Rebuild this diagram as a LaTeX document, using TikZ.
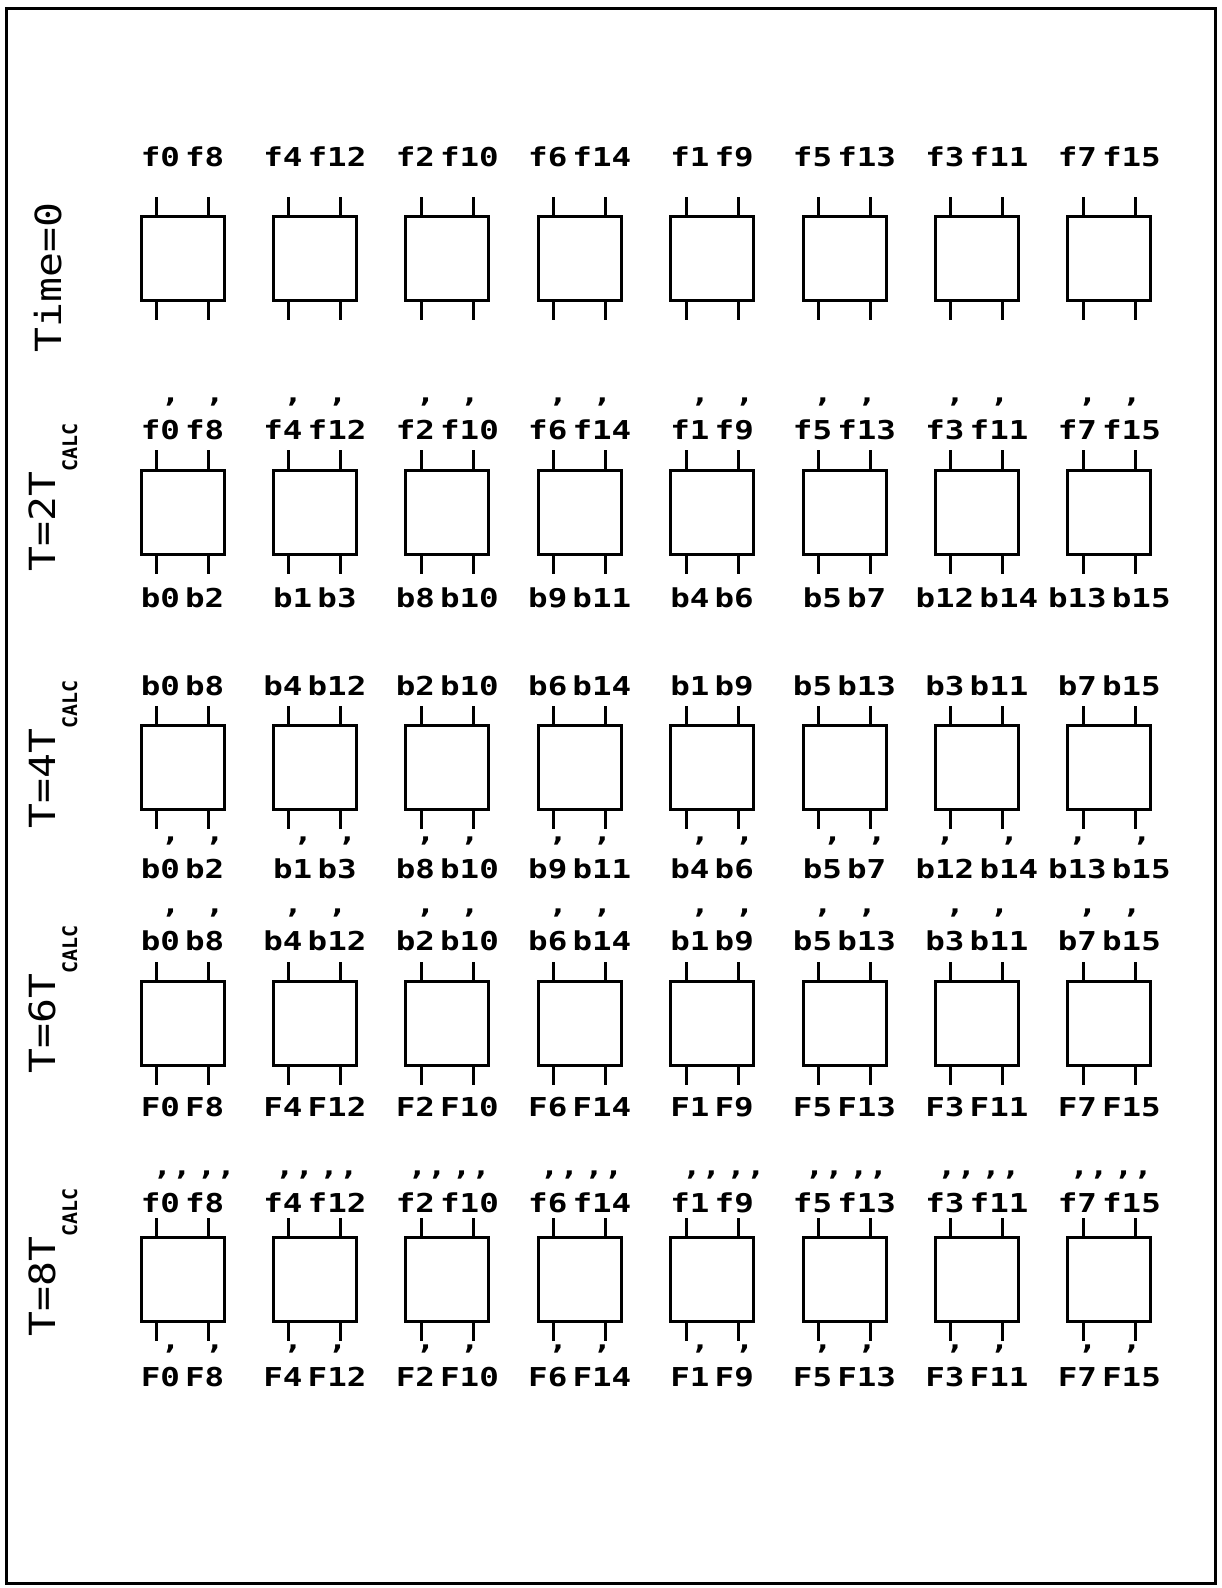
\documentclass[tikz,border=0pt]{standalone}
\usepackage{fontspec}
\newfontfamily\labfont[FakeStretch=1.25]{DejaVu Sans Mono Bold}
\newfontfamily\rowfont[FakeStretch=1.15]{DejaVu Sans Mono}
\newfontfamily\calcfont{DejaVu Sans Mono Bold}
\newcommand\tk{\makebox[0pt][l]{\hspace{0.02em}\raisebox{1.42em}{,}}}
\newcommand\ttk{\makebox[0pt][l]{\hspace{-0.3em}\raisebox{1.42em}{,,}}}
\newcommand\wg{\hspace{0.2em}}
\newcommand\calcsub{\raisebox{-11pt}{\calcfont\fontsize{10pt}{10pt}\selectfont CALC}}
\begin{document}
\begin{tikzpicture}[x=0.5pt,y=-0.5pt,line width=1.5pt,
  cell/.style={draw,line width=1.5pt,minimum width=41.5pt,minimum height=42pt,inner sep=0pt},
  lab/.style={font=\labfont\fontsize{13pt}{13pt}\selectfont,inner sep=0pt,anchor=base},
  rowlab/.style={font=\rowfont\fontsize{18pt}{18pt}\selectfont,inner sep=0pt,anchor=base west,rotate=90}]
\useasboundingbox (0,0) rectangle (1221,1588);
\draw[line width=1.5pt] (6,9) rectangle (1215,1583);
% boxes with stubs
\foreach \r/\t in {1/216,2/469,3/724,4/980,5/1236}{
  \foreach \c in {0,...,7}{
    \node[cell] (b\r-\c) at ({182.5+132.4*\c},{\t+43}) {};
    \draw (b\r-\c.north west) ++(17,0) -- ++(0,-18);
    \draw (b\r-\c.north east) ++(-17,0) -- ++(0,-18);
    \draw (b\r-\c.south west) ++(17,0) -- ++(0,18);
    \draw (b\r-\c.south east) ++(-17,0) -- ++(0,18);
  }
}
% labels using the first index list
\foreach \c/\pa/\pb in {0/0/8,1/4/12,2/2/10,3/6/14,4/1/9,5/5/13,6/3/11,7/7/15}{
  \node[lab] (t1-\c) at ({182.5+132.4*\c},167) {f\pa\wg f\pb};
  \node[lab] (t2-\c) at ({182.5+132.4*\c},439) {f\tk\pa\wg f\tk\pb};
  \node[lab] (t3-\c) at ({182.5+132.4*\c},695) {b\pa\wg b\pb};
  \node[lab] (t4-\c) at ({182.5+132.4*\c},950) {b\tk\pa\wg b\tk\pb};
  \node[lab] (u4-\c) at ({182.5+132.4*\c},1116) {F\pa\wg F\pb};
  \node[lab] (t5-\c) at ({182.5+132.4*\c},1212) {f\ttk\pa\wg f\ttk\pb};
  \node[lab] (u5-\c) at ({182.5+132.4*\c},1386) {F\tk\pa\wg F\tk\pb};
}
% labels using the second index list
\foreach \c/\pa/\pb in {0/0/2,1/1/3,2/8/10,3/9/11,4/4/6,5/5/7,6/12/14,7/13/15}{
  \node[lab] (u2-\c) at ({182.5+132.4*\c},607) {b\pa\wg b\pb};
  \node[lab] (u3-\c) at ({182.5+132.4*\c},878) {b\tk\pa\wg b\tk\pb};
}
% row labels
\node[rowlab] (L1) at (61,354) {Time=0};
\node[rowlab] (L2) at (55,573) {T=2T\calcsub};
\node[rowlab] (L3) at (55,830) {T=4T\calcsub};
\node[rowlab] (L4) at (55,1075) {T=6T\calcsub};
\node[rowlab] (L5) at (55,1338) {T=8T\calcsub};
\end{tikzpicture}
\end{document}
